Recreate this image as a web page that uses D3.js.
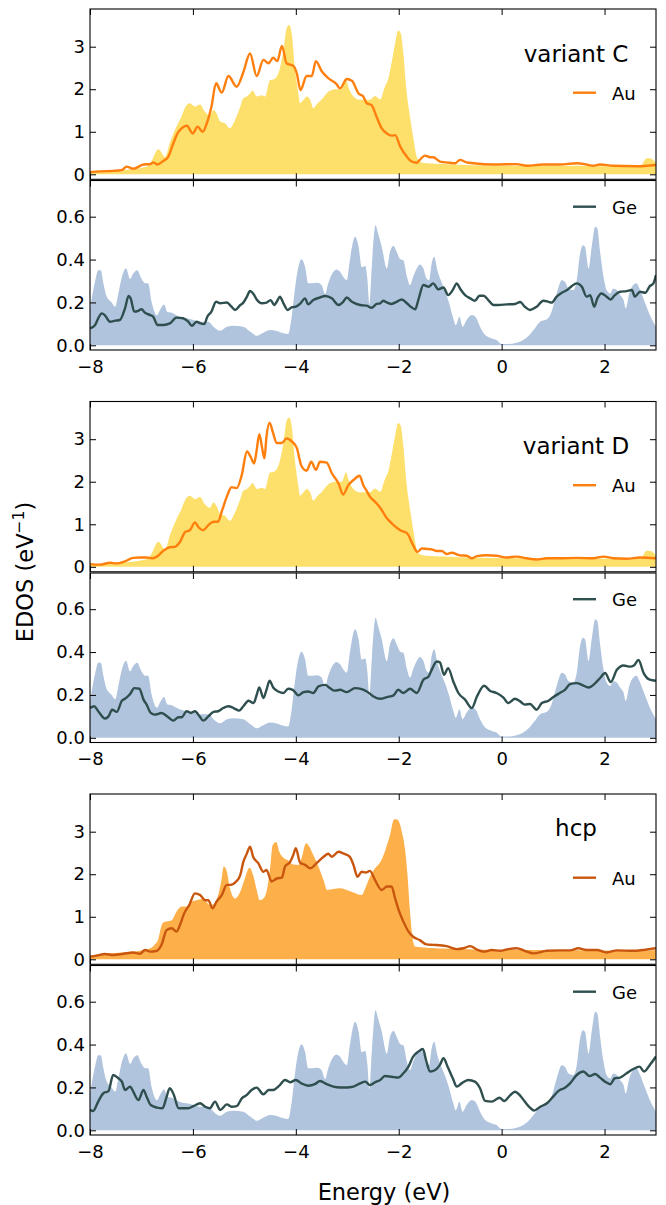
<!DOCTYPE html>
<html><head><meta charset="utf-8">
<script src="https://cdn.jsdelivr.net/npm/d3@7"></script>
<style>body{margin:0;background:#fff}svg{display:block}text{font-family:"DejaVu Sans",sans-serif}</style>
</head><body>
<script>
// ---------- data ----------
const xTicks=[-8,-6,-4,-2,0,2];
const auTicks=[0,1,2,3];
const geTicks=[0,0.2,0.4,0.6];
const xDomain=[-8,3];
const panelTitles=["variant C","variant D","hcp"];
const legendLabels=["Au","Ge"];

// reference Au DOS (fcc) – yellow fill
const auRefFcc=[[-8.00,0.05],[-7.35,0.10],[-6.90,0.18],[-6.83,0.26],[-6.67,0.59],[-6.54,0.41],[-6.45,0.73],[-6.32,1.12],[-6.25,1.28],[-6.12,1.63],[-6.06,1.67],[-5.96,1.59],[-5.86,1.64],[-5.77,1.47],[-5.67,1.39],[-5.60,1.51],[-5.54,1.43],[-5.47,1.24],[-5.38,1.20],[-5.28,1.08],[-5.18,1.28],[-5.08,1.59],[-5.02,1.79],[-4.95,1.83],[-4.89,1.90],[-4.84,1.97],[-4.76,1.83],[-4.66,1.86],[-4.60,1.83],[-4.50,2.22],[-4.44,2.23],[-4.37,2.30],[-4.31,2.49],[-4.24,2.92],[-4.18,3.43],[-4.13,3.51],[-4.08,3.31],[-4.02,2.53],[-3.95,1.90],[-3.92,1.67],[-3.85,1.75],[-3.79,1.83],[-3.72,1.75],[-3.66,1.55],[-3.59,1.65],[-3.50,1.75],[-3.37,1.94],[-3.24,2.00],[-3.11,2.00],[-3.02,2.22],[-2.98,2.06],[-2.88,1.83],[-2.75,1.75],[-2.65,1.75],[-2.56,1.75],[-2.46,1.84],[-2.36,1.76],[-2.27,2.06],[-2.20,2.26],[-2.14,2.61],[-2.07,3.08],[-2.01,3.38],[-1.96,3.31],[-1.91,2.84],[-1.85,1.98],[-1.78,1.35],[-1.72,0.88],[-1.65,0.41],[-1.60,0.30],[-1.46,0.26],[-1.13,0.24],[-0.50,0.21],[0.50,0.20],[1.50,0.20],[2.50,0.18],[2.70,0.20],[2.82,0.38],[2.90,0.37],[3.00,0.26]];
// reference Au DOS (hcp) – orange fill
const auRefHcp=[[-8.00,0.086],[-7.68,0.14],[-7.35,0.16],[-7.03,0.20],[-6.83,0.26],[-6.74,0.35],[-6.67,0.49],[-6.64,0.65],[-6.59,0.85],[-6.52,0.89],[-6.41,0.92],[-6.32,1.12],[-6.22,1.24],[-6.12,1.24],[-6.02,1.36],[-5.93,1.39],[-5.80,1.42],[-5.67,1.28],[-5.60,1.29],[-5.51,1.51],[-5.45,1.83],[-5.40,2.18],[-5.34,2.06],[-5.28,1.67],[-5.18,1.43],[-5.08,1.59],[-4.99,1.90],[-4.90,2.15],[-4.83,1.98],[-4.76,1.63],[-4.70,1.39],[-4.63,1.43],[-4.57,1.59],[-4.50,2.14],[-4.45,2.69],[-4.38,2.76],[-4.32,2.53],[-4.24,2.39],[-4.15,2.33],[-4.05,2.23],[-3.95,2.22],[-3.89,2.37],[-3.80,2.73],[-3.74,2.65],[-3.66,2.45],[-3.56,2.18],[-3.46,1.86],[-3.39,1.63],[-3.27,1.65],[-3.14,1.67],[-3.01,1.63],[-2.88,1.57],[-2.72,1.51],[-2.65,1.67],[-2.56,1.94],[-2.46,2.14],[-2.36,2.28],[-2.27,2.53],[-2.17,2.92],[-2.09,3.29],[-2.04,3.29],[-1.99,3.22],[-1.94,3.00],[-1.88,2.61],[-1.83,1.98],[-1.78,1.12],[-1.73,0.49],[-1.68,0.30],[-1.46,0.27],[-0.81,0.24],[-0.16,0.22],[1.13,0.22],[2.75,0.20],[3.00,0.22]];
// reference Ge DOS – blue fill
const geRef=[[-8.00,0.17],[-7.90,0.30],[-7.84,0.35],[-7.79,0.35],[-7.74,0.29],[-7.68,0.23],[-7.58,0.20],[-7.51,0.18],[-7.45,0.24],[-7.38,0.32],[-7.30,0.36],[-7.22,0.31],[-7.16,0.335],[-7.08,0.35],[-7.00,0.31],[-6.93,0.29],[-6.87,0.29],[-6.80,0.20],[-6.70,0.14],[-6.64,0.165],[-6.56,0.19],[-6.50,0.157],[-6.41,0.152],[-6.32,0.14],[-6.22,0.13],[-6.12,0.126],[-5.99,0.118],[-5.86,0.11],[-5.70,0.11],[-5.60,0.087],[-5.47,0.068],[-5.34,0.087],[-5.21,0.091],[-5.02,0.087],[-4.89,0.064],[-4.76,0.045],[-4.63,0.059],[-4.50,0.071],[-4.37,0.067],[-4.24,0.056],[-4.15,0.053],[-4.08,0.133],[-4.02,0.258],[-3.95,0.366],[-3.89,0.402],[-3.82,0.366],[-3.76,0.289],[-3.69,0.29],[-3.59,0.292],[-3.50,0.281],[-3.43,0.239],[-3.37,0.289],[-3.27,0.343],[-3.21,0.354],[-3.14,0.343],[-3.08,0.32],[-3.01,0.304],[-2.95,0.397],[-2.88,0.49],[-2.85,0.506],[-2.78,0.46],[-2.72,0.365],[-2.65,0.37],[-2.61,0.31],[-2.57,0.19],[-2.52,0.382],[-2.45,0.56],[-2.40,0.52],[-2.33,0.46],[-2.23,0.358],[-2.17,0.436],[-2.10,0.465],[-2.04,0.436],[-1.97,0.402],[-1.91,0.397],[-1.84,0.32],[-1.78,0.281],[-1.72,0.32],[-1.65,0.358],[-1.59,0.377],[-1.52,0.358],[-1.46,0.312],[-1.41,0.304],[-1.36,0.382],[-1.31,0.413],[-1.25,0.351],[-1.16,0.289],[-1.08,0.242],[-1.02,0.196],[-0.94,0.126],[-0.89,0.094],[-0.82,0.133],[-0.76,0.087],[-0.68,0.118],[-0.58,0.141],[-0.50,0.13],[-0.42,0.087],[-0.32,0.048],[-0.19,0.032],[-0.10,0.025],[0.00,0.006],[0.13,0.006],[0.29,0.012],[0.42,0.025],[0.52,0.043],[0.62,0.071],[0.75,0.11],[0.88,0.121],[0.97,0.157],[1.07,0.242],[1.17,0.304],[1.23,0.296],[1.30,0.265],[1.39,0.258],[1.46,0.304],[1.52,0.421],[1.58,0.467],[1.62,0.46],[1.69,0.358],[1.75,0.46],[1.82,0.553],[1.86,0.545],[1.91,0.444],[1.98,0.32],[2.04,0.258],[2.11,0.242],[2.17,0.265],[2.24,0.258],[2.30,0.235],[2.37,0.211],[2.41,0.172],[2.48,0.242],[2.56,0.281],[2.62,0.289],[2.69,0.258],[2.79,0.196],[2.88,0.141],[3.00,0.087]];

// variant C
const auVariantC=[[-8.00,0.05],[-7.81,0.07],[-7.55,0.08],[-7.38,0.10],[-7.29,0.18],[-7.16,0.13],[-6.96,0.23],[-6.83,0.24],[-6.77,0.28],[-6.69,0.23],[-6.57,0.32],[-6.48,0.41],[-6.38,0.73],[-6.30,0.96],[-6.22,1.08],[-6.12,1.14],[-6.00,0.96],[-5.91,1.12],[-5.81,1.00],[-5.73,1.20],[-5.64,1.59],[-5.55,2.14],[-5.44,1.92],[-5.31,2.31],[-5.15,2.06],[-5.02,2.40],[-4.89,2.84],[-4.76,2.31],[-4.63,2.69],[-4.53,2.61],[-4.44,2.74],[-4.36,2.66],[-4.27,3.02],[-4.18,2.61],[-4.05,2.55],[-3.98,2.37],[-3.91,1.98],[-3.79,2.31],[-3.69,2.31],[-3.61,2.66],[-3.50,2.43],[-3.37,2.26],[-3.21,2.12],[-3.14,2.02],[-3.01,2.24],[-2.91,2.20],[-2.78,1.90],[-2.69,1.83],[-2.62,1.67],[-2.53,1.63],[-2.43,1.35],[-2.33,1.08],[-2.23,0.96],[-2.14,0.91],[-2.07,0.92],[-1.97,0.65],[-1.84,0.41],[-1.75,0.30],[-1.65,0.27],[-1.59,0.34],[-1.49,0.44],[-1.39,0.40],[-1.33,0.40],[-1.20,0.30],[-1.00,0.27],[-0.90,0.26],[-0.81,0.34],[-0.68,0.28],[-0.55,0.26],[-0.16,0.23],[0.29,0.24],[0.49,0.20],[0.81,0.23],[1.13,0.23],[1.46,0.26],[1.65,0.23],[1.78,0.20],[1.91,0.23],[2.17,0.20],[2.63,0.19],[3.00,0.22]];
const geVariantC=[[-8.00,0.079],[-7.90,0.095],[-7.84,0.126],[-7.77,0.149],[-7.71,0.14],[-7.61,0.11],[-7.51,0.115],[-7.42,0.118],[-7.32,0.172],[-7.25,0.23],[-7.21,0.219],[-7.14,0.157],[-7.06,0.161],[-7.00,0.168],[-6.93,0.152],[-6.83,0.141],[-6.77,0.133],[-6.69,0.095],[-6.57,0.095],[-6.45,0.102],[-6.32,0.129],[-6.19,0.126],[-6.09,0.11],[-6.02,0.091],[-5.93,0.11],[-5.85,0.102],[-5.78,0.099],[-5.72,0.133],[-5.64,0.157],[-5.55,0.203],[-5.47,0.196],[-5.34,0.20],[-5.25,0.18],[-5.18,0.165],[-5.08,0.188],[-5.02,0.199],[-4.95,0.227],[-4.89,0.253],[-4.83,0.242],[-4.76,0.214],[-4.66,0.196],[-4.57,0.199],[-4.49,0.211],[-4.42,0.188],[-4.37,0.203],[-4.31,0.227],[-4.24,0.196],[-4.16,0.165],[-4.08,0.177],[-4.00,0.18],[-3.91,0.196],[-3.82,0.219],[-3.76,0.191],[-3.66,0.211],[-3.53,0.223],[-3.43,0.23],[-3.30,0.219],[-3.17,0.188],[-3.08,0.203],[-3.01,0.223],[-2.91,0.203],[-2.75,0.188],[-2.62,0.185],[-2.53,0.175],[-2.43,0.193],[-2.36,0.196],[-2.30,0.208],[-2.23,0.20],[-2.14,0.193],[-2.04,0.203],[-1.94,0.214],[-1.84,0.196],[-1.75,0.177],[-1.68,0.168],[-1.62,0.211],[-1.52,0.281],[-1.42,0.273],[-1.33,0.289],[-1.23,0.261],[-1.13,0.27],[-1.04,0.234],[-0.95,0.258],[-0.87,0.289],[-0.81,0.265],[-0.71,0.234],[-0.61,0.219],[-0.52,0.208],[-0.43,0.231],[-0.35,0.231],[-0.26,0.211],[-0.16,0.188],[-0.06,0.188],[0.10,0.191],[0.26,0.193],[0.36,0.202],[0.45,0.18],[0.55,0.165],[0.68,0.18],[0.81,0.208],[0.91,0.203],[0.97,0.199],[1.07,0.227],[1.17,0.245],[1.27,0.258],[1.36,0.276],[1.46,0.289],[1.56,0.273],[1.65,0.227],[1.72,0.234],[1.80,0.18],[1.86,0.219],[1.94,0.242],[2.04,0.227],[2.12,0.214],[2.20,0.234],[2.30,0.25],[2.43,0.253],[2.53,0.258],[2.59,0.227],[2.69,0.25],[2.79,0.245],[2.88,0.276],[2.95,0.289],[3.00,0.328]];

// variant D
const auVariantD=[[-8.00,0.063],[-7.81,0.05],[-7.61,0.094],[-7.48,0.08],[-7.32,0.13],[-7.16,0.21],[-7.03,0.22],[-6.90,0.22],[-6.80,0.20],[-6.70,0.24],[-6.57,0.38],[-6.45,0.46],[-6.35,0.47],[-6.25,0.59],[-6.15,0.82],[-6.06,0.86],[-5.96,1.04],[-5.89,0.93],[-5.80,0.86],[-5.70,0.98],[-5.60,1.06],[-5.51,1.06],[-5.44,1.30],[-5.34,1.65],[-5.25,1.87],[-5.15,1.85],[-5.05,2.16],[-4.95,2.71],[-4.88,2.59],[-4.81,2.43],[-4.76,2.75],[-4.71,3.12],[-4.66,2.83],[-4.61,2.55],[-4.57,3.06],[-4.51,3.39],[-4.45,3.18],[-4.37,2.91],[-4.27,2.91],[-4.18,3.02],[-4.08,2.95],[-3.98,2.79],[-3.89,2.37],[-3.79,2.26],[-3.70,2.47],[-3.61,2.28],[-3.53,2.47],[-3.40,2.45],[-3.30,2.20],[-3.17,1.96],[-3.08,1.70],[-2.98,1.92],[-2.88,2.04],[-2.76,2.14],[-2.69,1.92],[-2.62,1.78],[-2.56,1.65],[-2.46,1.53],[-2.36,1.39],[-2.23,1.14],[-2.10,0.98],[-1.97,0.86],[-1.84,0.79],[-1.72,0.51],[-1.64,0.35],[-1.55,0.43],[-1.46,0.42],[-1.36,0.41],[-1.26,0.37],[-1.16,0.37],[-1.07,0.30],[-0.97,0.33],[-0.81,0.27],[-0.68,0.26],[-0.58,0.20],[-0.48,0.25],[-0.29,0.27],[-0.10,0.26],[0.10,0.22],[0.29,0.24],[0.49,0.20],[0.68,0.17],[0.88,0.20],[1.13,0.20],[1.46,0.21],[1.78,0.20],[1.98,0.24],[2.17,0.20],[2.43,0.19],[2.69,0.22],[3.00,0.20]];
const geVariantD=[[-8.00,0.139],[-7.92,0.147],[-7.84,0.124],[-7.71,0.09],[-7.64,0.10],[-7.57,0.131],[-7.48,0.121],[-7.38,0.173],[-7.32,0.182],[-7.22,0.204],[-7.14,0.232],[-7.04,0.229],[-6.96,0.178],[-6.90,0.155],[-6.82,0.116],[-6.74,0.108],[-6.61,0.116],[-6.48,0.096],[-6.38,0.08],[-6.28,0.096],[-6.22,0.096],[-6.12,0.124],[-6.04,0.116],[-5.96,0.124],[-5.87,0.10],[-5.80,0.08],[-5.70,0.10],[-5.60,0.121],[-5.51,0.124],[-5.41,0.139],[-5.31,0.147],[-5.21,0.139],[-5.10,0.127],[-5.02,0.147],[-4.92,0.173],[-4.82,0.162],[-4.76,0.201],[-4.71,0.235],[-4.63,0.186],[-4.57,0.224],[-4.51,0.266],[-4.44,0.235],[-4.34,0.216],[-4.24,0.209],[-4.15,0.229],[-4.06,0.224],[-3.95,0.198],[-3.85,0.213],[-3.76,0.216],[-3.66,0.209],[-3.56,0.24],[-3.43,0.247],[-3.34,0.232],[-3.24,0.22],[-3.14,0.224],[-3.01,0.213],[-2.85,0.232],[-2.72,0.227],[-2.62,0.216],[-2.49,0.193],[-2.36,0.182],[-2.23,0.19],[-2.10,0.198],[-2.01,0.224],[-1.91,0.209],[-1.78,0.229],[-1.65,0.209],[-1.52,0.271],[-1.42,0.286],[-1.36,0.317],[-1.26,0.356],[-1.20,0.352],[-1.12,0.294],[-1.04,0.325],[-0.94,0.263],[-0.84,0.209],[-0.71,0.178],[-0.58,0.139],[-0.48,0.193],[-0.34,0.243],[-0.23,0.22],[-0.10,0.209],[0.03,0.189],[0.13,0.162],[0.26,0.182],[0.36,0.17],[0.45,0.155],[0.55,0.158],[0.68,0.131],[0.78,0.162],[0.91,0.173],[1.00,0.189],[1.13,0.209],[1.23,0.224],[1.33,0.25],[1.46,0.255],[1.56,0.247],[1.69,0.235],[1.82,0.255],[1.91,0.278],[2.01,0.302],[2.12,0.26],[2.24,0.317],[2.37,0.337],[2.50,0.332],[2.57,0.337],[2.66,0.363],[2.76,0.302],[2.88,0.271],[3.00,0.266]];

// hcp
const auHcp=[[-8.00,0.063],[-7.87,0.086],[-7.71,0.125],[-7.55,0.10],[-7.35,0.13],[-7.16,0.16],[-7.03,0.13],[-6.93,0.22],[-6.83,0.18],[-6.70,0.20],[-6.61,0.34],[-6.51,0.69],[-6.41,0.73],[-6.32,0.65],[-6.25,0.81],[-6.17,1.08],[-6.07,1.28],[-5.96,1.55],[-5.86,1.51],[-5.76,1.39],[-5.70,1.39],[-5.62,1.20],[-5.54,1.36],[-5.44,1.51],[-5.34,1.75],[-5.27,1.75],[-5.16,1.83],[-5.08,1.98],[-5.02,2.29],[-4.95,2.49],[-4.89,2.65],[-4.83,2.41],[-4.73,2.26],[-4.63,2.06],[-4.57,2.10],[-4.47,1.83],[-4.37,1.90],[-4.27,1.92],[-4.21,2.18],[-4.11,2.29],[-4.05,2.45],[-4.00,2.61],[-3.92,2.28],[-3.82,2.22],[-3.72,2.14],[-3.59,2.27],[-3.46,2.41],[-3.37,2.48],[-3.30,2.41],[-3.17,2.53],[-3.08,2.49],[-2.95,2.41],[-2.88,2.22],[-2.80,1.94],[-2.72,2.06],[-2.64,2.04],[-2.56,2.08],[-2.46,1.86],[-2.33,1.63],[-2.23,1.71],[-2.14,1.71],[-2.07,1.43],[-1.99,1.12],[-1.91,0.89],[-1.81,0.65],[-1.72,0.53],[-1.59,0.45],[-1.46,0.35],[-1.33,0.34],[-1.07,0.31],[-0.87,0.24],[-0.74,0.26],[-0.61,0.31],[-0.48,0.23],[-0.35,0.18],[-0.19,0.22],[-0.03,0.20],[0.13,0.24],[0.29,0.26],[0.45,0.20],[0.62,0.14],[0.88,0.20],[1.13,0.21],[1.33,0.21],[1.49,0.26],[1.65,0.22],[1.85,0.22],[2.04,0.16],[2.24,0.21],[2.56,0.20],[2.75,0.22],[3.00,0.26]];
const geHcp=[[-8.00,0.095],[-7.94,0.09],[-7.84,0.134],[-7.74,0.173],[-7.64,0.183],[-7.55,0.258],[-7.45,0.243],[-7.38,0.227],[-7.32,0.188],[-7.22,0.204],[-7.16,0.18],[-7.06,0.141],[-6.96,0.188],[-6.90,0.157],[-6.82,0.118],[-6.70,0.106],[-6.59,0.103],[-6.52,0.149],[-6.45,0.196],[-6.37,0.165],[-6.28,0.103],[-6.19,0.103],[-6.09,0.103],[-5.99,0.113],[-5.86,0.126],[-5.76,0.11],[-5.67,0.103],[-5.57,0.134],[-5.47,0.095],[-5.34,0.121],[-5.25,0.11],[-5.15,0.113],[-5.05,0.149],[-4.95,0.165],[-4.86,0.188],[-4.76,0.199],[-4.63,0.168],[-4.53,0.188],[-4.44,0.188],[-4.31,0.211],[-4.21,0.235],[-4.11,0.224],[-4.00,0.235],[-3.89,0.219],[-3.76,0.208],[-3.63,0.215],[-3.53,0.23],[-3.40,0.215],[-3.27,0.204],[-3.14,0.20],[-3.01,0.20],[-2.88,0.204],[-2.75,0.219],[-2.65,0.227],[-2.56,0.211],[-2.46,0.224],[-2.36,0.235],[-2.27,0.253],[-2.14,0.25],[-2.01,0.246],[-1.91,0.266],[-1.81,0.297],[-1.72,0.344],[-1.62,0.367],[-1.53,0.379],[-1.47,0.328],[-1.39,0.274],[-1.29,0.281],[-1.20,0.305],[-1.13,0.336],[-1.05,0.297],[-0.95,0.243],[-0.87,0.204],[-0.78,0.219],[-0.65,0.235],[-0.52,0.227],[-0.42,0.196],[-0.32,0.137],[-0.19,0.134],[-0.04,0.152],[0.05,0.137],[0.16,0.162],[0.26,0.18],[0.36,0.162],[0.45,0.134],[0.55,0.106],[0.63,0.092],[0.75,0.11],[0.88,0.126],[1.00,0.157],[1.10,0.183],[1.23,0.199],[1.33,0.219],[1.46,0.258],[1.59,0.274],[1.71,0.253],[1.82,0.263],[1.91,0.246],[2.01,0.227],[2.11,0.215],[2.20,0.243],[2.30,0.246],[2.43,0.266],[2.56,0.286],[2.68,0.297],[2.77,0.274],[2.88,0.305],[3.00,0.344]];

// ---------- drawing ----------
const W=666,H=1205;
const L=90,R=656,GROUP=392.5;
const svg=d3.select("body").append("svg").attr("width",W).attr("height",H);
svg.append("rect").attr("width",W).attr("height",H).attr("fill","#fff");
const x=d3.scaleLinear().domain(xDomain).range([L,R]);

const groups=[
  {title:panelTitles[0],titleY:61.5,auRef:auRefFcc,auLine:auVariantC,geLine:geVariantC,auFill:"#fddf6b",auStroke:"#ff7f0e"},
  {title:panelTitles[1],titleY:61.5,auRef:auRefFcc,auLine:auVariantD,geLine:geVariantD,auFill:"#fddf6b",auStroke:"#ff7f0e"},
  {title:panelTitles[2],titleY:50.7,auRef:auRefHcp,auLine:auHcp,geLine:geHcp,auFill:"#fdb04a",auStroke:"#c8560e"}
];
const geFill="#b0c4de",geStroke="#2f4f4f";
const LW=2.4;

let clipId=0;
function panel(top,bottom,y,ticks,fmt,ref,line,fillC,strokeC,labels){
  const id="clip"+(clipId++);
  svg.append("clipPath").attr("id",id).append("rect")
    .attr("x",L).attr("y",top).attr("width",R-L).attr("height",bottom-top);
  const g=svg.append("g").attr("clip-path",`url(#${id})`);
  const area=d3.area().curve(d3.curveMonotoneX).x(d=>x(d[0])).y0(y(0)).y1(d=>y(d[1]));
  const ln=d3.line().curve(d3.curveMonotoneX).x(d=>x(d[0])).y(d=>y(d[1]));
  g.append("path").datum(ref).attr("d",area).attr("fill",fillC);
  g.append("path").datum(line).attr("d",ln).attr("fill","none").attr("stroke",strokeC)
    .attr("stroke-width",LW).attr("stroke-linejoin","round");
  const ax=[];
  ax.push(svg.append("g").attr("transform",`translate(0,${bottom})`)
    .call(d3.axisBottom(x).tickValues(xTicks).tickSize(-6).tickPadding(10).tickFormat(labels?d3.format("d"):"")));
  ax.push(svg.append("g").attr("transform",`translate(0,${top})`)
    .call(d3.axisTop(x).tickValues(xTicks).tickSize(-6).tickFormat("")));
  ax.push(svg.append("g").attr("transform",`translate(${L},0)`)
    .call(d3.axisLeft(y).tickValues(ticks).tickSize(-6).tickPadding(5).tickFormat(fmt)));
  ax.push(svg.append("g").attr("transform",`translate(${R},0)`)
    .call(d3.axisRight(y).tickValues(ticks).tickSize(-6).tickFormat("")));
  ax.forEach(a=>{
    a.select(".domain").remove();
    a.selectAll(".tick line").attr("stroke","#000").attr("stroke-width",1);
    a.selectAll("text").attr("font-family","DejaVu Sans").attr("font-size",18).attr("fill","#000");
  });
  svg.append("rect").attr("x",L).attr("y",top).attr("width",R-L).attr("height",bottom-top)
    .attr("fill","none").attr("stroke","#000").attr("stroke-width",1.1);
}

function legend(oy,cy,label,color){
  svg.append("line").attr("x1",573).attr("x2",596).attr("y1",oy+cy).attr("y2",oy+cy)
    .attr("stroke",color).attr("stroke-width",LW);
  svg.append("text").attr("x",612).attr("y",oy+cy+7).attr("font-size",18).attr("fill","#000").text(label);
}

groups.forEach((gr,i)=>{
  const oy=i*GROUP;
  const yAu=d3.scaleLinear().domain([0,3]).range([174.3+oy,46.7+oy]);
  const yGe=d3.scaleLinear().domain([0,0.6]).range([345.3+oy,216.7+oy]);
  panel(9+oy,179.3+oy,yAu,auTicks,d3.format("d"),gr.auRef,gr.auLine,gr.auFill,gr.auStroke,false);
  panel(180.5+oy,350+oy,yGe,geTicks,d3.format(".1f"),geRef,gr.geLine,geFill,geStroke,true);
  svg.append("text").attr("x",576).attr("y",oy+gr.titleY).attr("text-anchor","middle")
    .attr("font-size",23).attr("fill","#000").text(gr.title);
  legend(oy,92.7,legendLabels[0],gr.auStroke);
  legend(oy,206.7,legendLabels[1],geStroke);
});

// axis labels
const yl=svg.append("text").attr("transform","translate(33,572) rotate(-90)")
  .attr("text-anchor","middle").attr("font-size",22.5).attr("fill","#000");
yl.append("tspan").text("EDOS (eV");
yl.append("tspan").attr("font-size",15.5).attr("dy",-9).text("−1");
yl.append("tspan").attr("dy",9).text(")");
svg.append("text").attr("x",384).attr("y",1200).attr("text-anchor","middle")
  .attr("font-size",22.5).attr("fill","#000").text("Energy (eV)");
</script>
</body></html>
